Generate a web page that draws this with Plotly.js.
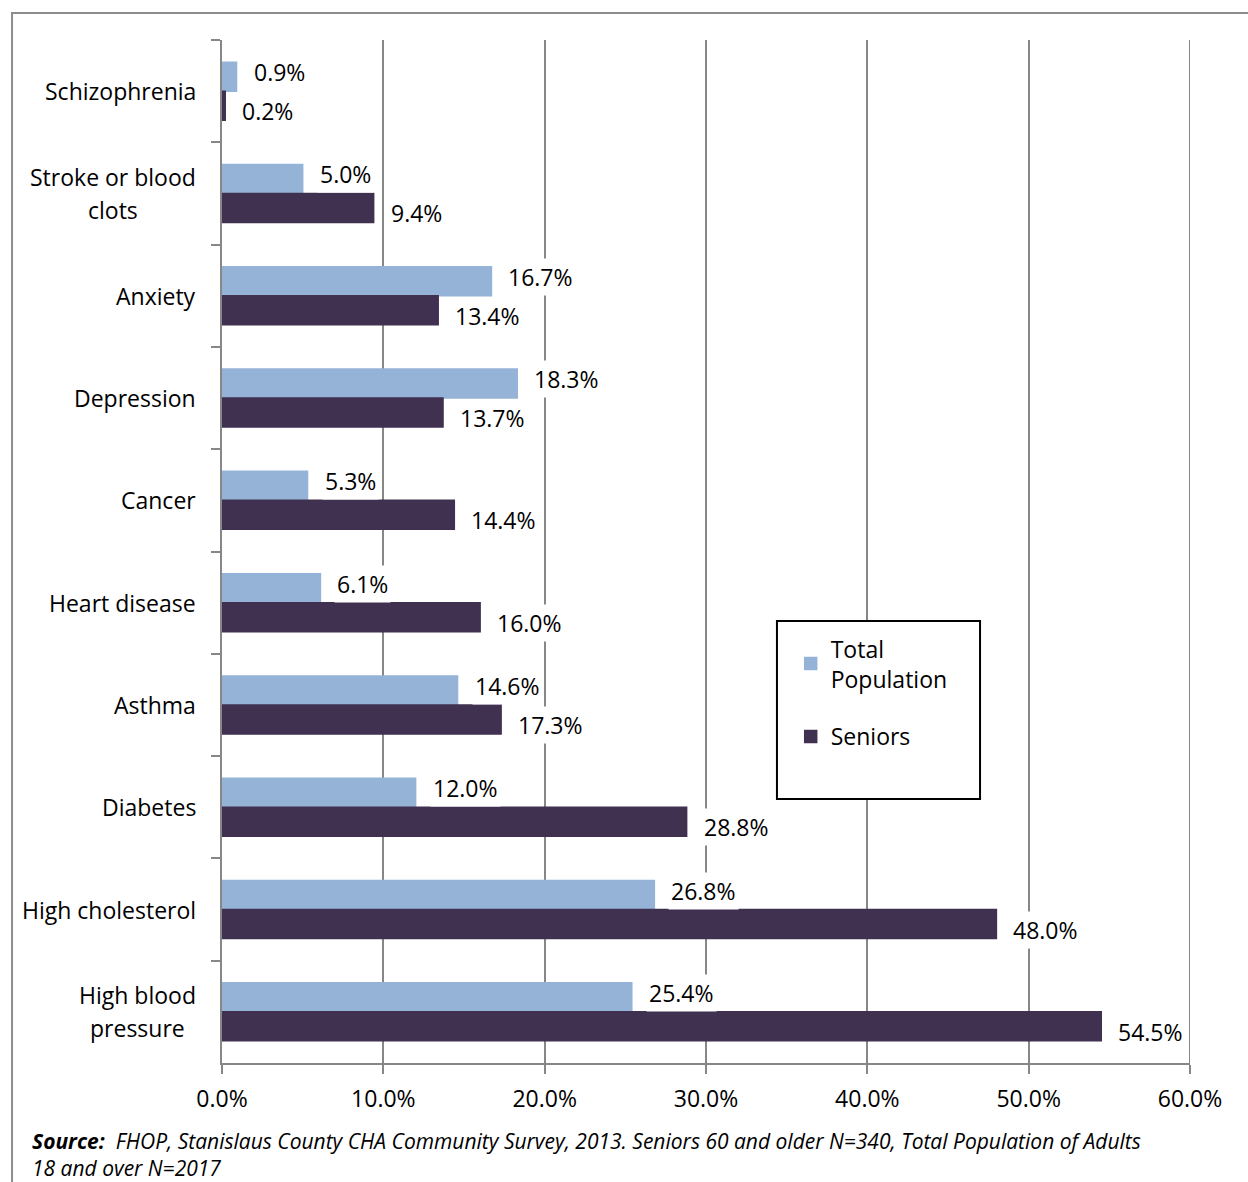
<!DOCTYPE html>
<html>
<head>
<meta charset="utf-8">
<script src="https://cdn.plot.ly/plotly-3.0.1.min.js"></script>
<style>html,body{margin:0;padding:0;background:#fff;}</style>
</head>
<body>
<div id="chart" style="width:1248px;height:1182px;"></div>
<script>
// Data (top to bottom)
const categories = ["Schizophrenia", "Stroke or blood<br>clots", "Anxiety", "Depression", "Cancer",
  "Heart disease", "Asthma", "Diabetes", "High cholesterol", "High blood<br>pressure"];
const totalPopulation = [0.9, 5.0, 16.7, 18.3, 5.3, 6.1, 14.6, 12.0, 26.8, 25.4];
const seniors = [0.2, 9.4, 13.4, 13.7, 14.4, 16.0, 17.3, 28.8, 48.0, 54.5];
const xTicks = [0, 10, 20, 30, 40, 50, 60];
const xTickLabels = ["0.0%", "10.0%", "20.0%", "30.0%", "40.0%", "50.0%", "60.0%"];
const seriesNames = ["Total<br>Population", "Seniors"];
const sourceText = "<b>Source:</b>  FHOP, Stanislaus County CHA Community Survey, 2013. Seniors 60 and older N=340, Total Population of Adults<br>18 and over N=2017";

const FONT = "Open Sans, Noto Sans, sans-serif";
const FS = 23;
const COL_TOTAL = "#95b3d7";
const COL_SEN = "#403151";
const GRID = "#878787";

const traces = [
  {type: "bar", orientation: "h", name: seriesNames[0], y: categories, x: totalPopulation,
   marker: {color: COL_TOTAL, line: {color: COL_TOTAL, width: 1.5}}, legendgroup: "a", hoverinfo: "x+y"},
  {type: "bar", orientation: "h", name: seriesNames[1], y: categories, x: seniors,
   marker: {color: COL_SEN, line: {color: COL_SEN, width: 1.5}}, legendgroup: "b", hoverinfo: "x+y"}
];

const annotations = [];
const fmt = v => v.toFixed(1) + "%";
categories.forEach((c, i) => {
  annotations.push({x: totalPopulation[i], y: c, xref: "x", yref: "y", text: fmt(totalPopulation[i]),
    showarrow: false, xanchor: "left", xshift: 14, yshift: 19, bgcolor: "#ffffff", borderpad: 2,
    font: {family: FONT, size: FS, color: "#000"}});
  annotations.push({x: seniors[i], y: c, xref: "x", yref: "y", text: fmt(seniors[i]),
    showarrow: false, xanchor: "left", xshift: 14, yshift: -20, bgcolor: "#ffffff", borderpad: 2,
    font: {family: FONT, size: FS, color: "#000"}});
  // category labels (each line placed separately, centered within its block)
  const lines = c.split("<br>");
  const lh = 33;
  lines.forEach((ln, k) => {
    annotations.push({x: 0, y: c, xref: "paper", yref: "y", text: ln, showarrow: false,
      xanchor: "center", xshift: -26, yshift: ((lines.length - 1) / 2 - k) * lh,
      font: {family: FONT, size: FS, color: "#000"}});
  });
});
annotations.push({x: -0.198, y: -0.0895, xref: "paper", yref: "paper", xanchor: "left", yanchor: "middle",
  align: "left", showarrow: false, text: "<i>" + sourceText + "</i>",
  font: {family: FONT, size: 21, color: "#000"}});

const layout = {
  width: 1248, height: 1182,
  margin: {l: 222, r: 58, t: 40, b: 119},
  paper_bgcolor: "#ffffff", plot_bgcolor: "#ffffff",
  barmode: "group", bargap: 0.433, bargroupgap: 0,
  font: {family: FONT, size: FS, color: "#000"},
  xaxis: {range: [0, 60], tickvals: xTicks, ticktext: xTickLabels, showgrid: true,
    gridcolor: GRID, gridwidth: 2, zeroline: false, showline: true, linecolor: GRID, linewidth: 2,
    ticks: "outside", ticklen: 9, tickwidth: 2, tickcolor: GRID, ticklabelstandoff: 5,
    tickfont: {family: FONT, size: FS, color: "#000"}, fixedrange: true},
  yaxis: {type: "category", autorange: "reversed", showticklabels: false, showgrid: false,
    zeroline: false, showline: true, linecolor: GRID, linewidth: 2, ticks: "outside",
    tickson: "boundaries", ticklen: 9, tickwidth: 2, tickcolor: GRID, fixedrange: true},
  showlegend: true,
  legend: {x: 0.5875, y: 0.426, xanchor: "left", yanchor: "top", bgcolor: "rgba(0,0,0,0)",
    borderwidth: 0, tracegroupgap: 25, font: {family: FONT, size: FS, color: "#000"}},
  shapes: [
    {type: "rect", xref: "paper", yref: "paper", x0: -0.2169, x1: 1.2, y0: 1.0264, y1: -0.2,
     line: {color: "#8c8c8c", width: 2}, fillcolor: "rgba(0,0,0,0)", layer: "below"},
    {type: "line", xref: "x", yref: "paper", x0: xTicks[xTicks.length - 1], x1: xTicks[xTicks.length - 1],
     y0: 0, y1: 1, line: {color: GRID, width: 2}, layer: "below"},
    {type: "rect", xref: "paper", yref: "paper", x0: 0.5733, x1: 0.7831, y0: 0.4321, y1: 0.2581,
     line: {color: "#000", width: 2}, fillcolor: "#ffffff", layer: "above"}
  ],
  annotations: annotations
};

Plotly.newPlot("chart", traces, layout, {displayModeBar: false, staticPlot: true}).then(gd => {
  // Right-align each category label block: block right edge 26px left of the axis
  const newAnn = gd.layout.annotations.map(a => Object.assign({}, a));
  const groups = {};
  const nodes = gd.querySelectorAll(".annotation");
  newAnn.forEach((a, idx) => {
    if (a.xref === "paper" && a.yref === "y") {
      const t = nodes[idx].querySelector(".annotation-text");
      const w = t.getBBox().width;
      (groups[a.y] = groups[a.y] || []).push({idx, w});
    }
  });
  Object.keys(groups).forEach(k => {
    const g = groups[k];
    const maxW = Math.max(...g.map(o => o.w));
    g.forEach(o => { newAnn[o.idx].xshift = -26 - maxW / 2; });
  });
  Plotly.relayout(gd, {annotations: newAnn});
});
</script>
</body>
</html>
